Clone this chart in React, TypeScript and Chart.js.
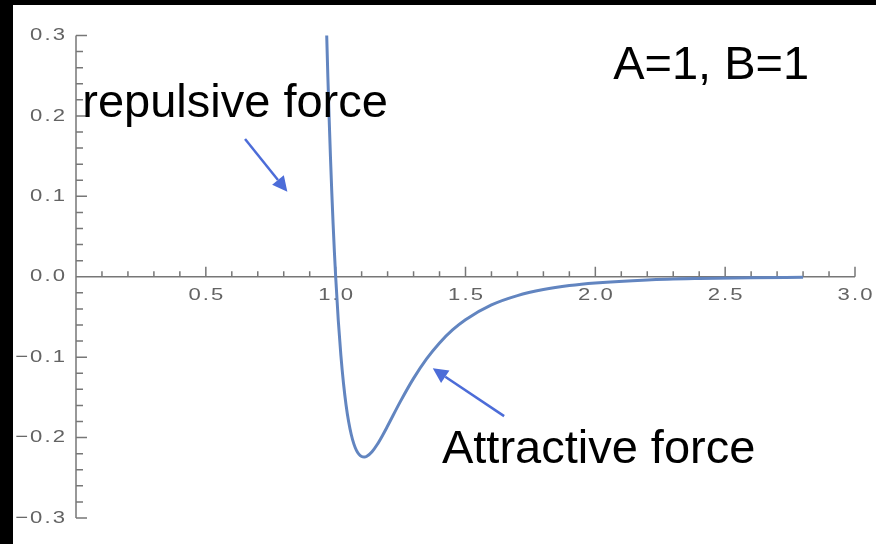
import { useEffect, useRef } from "react";
import { Chart, registerables } from "chart.js";

Chart.register(...registerables);

// Force curve sampled along the separation r
const R_VALUES = [
  0.965, 0.97, 0.975, 0.98, 0.985, 0.99, 0.995, 1.0,
  1.01, 1.02, 1.03, 1.04, 1.05, 1.06, 1.07, 1.08, 1.09, 1.1, 1.11, 1.12,
  1.14, 1.16, 1.18, 1.2,
  1.25, 1.3, 1.35, 1.4, 1.45, 1.5,
  1.6, 1.7, 1.8, 1.9, 2.0,
  2.2, 2.4, 2.6, 2.8,
];
const FORCE = [
  0.306, 0.248, 0.196, 0.1485, 0.1055, 0.0667, 0.0316, 0,
  -0.0541, -0.0975, -0.1321, -0.1594, -0.1804, -0.1962, -0.2078, -0.2158, -0.2209, -0.2235, -0.2241, -0.2232,
  -0.2176, -0.2086, -0.1976, -0.1856,
  -0.1547, -0.1264, -0.1022, -0.0823, -0.0662, -0.0534,
  -0.035, -0.0234, -0.0159, -0.0109, -0.0077,
  -0.004, -0.0022, -0.0012, -0.0007,
];

const X_MIN = 0;
const X_MAX = 3;
const Y_MIN = -0.3;
const Y_MAX = 0.3;

const X_TICKS = [0.5, 1.0, 1.5, 2.0, 2.5, 3.0];
const X_TICK_LABELS = ["0.5", "1.0", "1.5", "2.0", "2.5", "3.0"];
const Y_TICKS = [0.3, 0.2, 0.1, 0.0, -0.1, -0.2, -0.3];
const Y_TICK_LABELS = ["0.3", "0.2", "0.1", "0.0", "\u22120.1", "\u22120.2", "\u22120.3"];
const X_MINOR_COUNT = 30; // every 0.1
const Y_MINOR_COUNT = 15; // every 0.02 on each side

// Annotations, anchored in data coordinates
const NOTE_TEXTS = ["repulsive force", "A=1, B=1", "Attractive force"];
const NOTE_X = [0.6125, 2.446, 2.0127];
const NOTE_Y = [0.1988, 0.246, -0.2317];

const ARROW_FROM_X = [0.651, 1.6487];
const ARROW_FROM_Y = [0.1714, -0.1733];
const ARROW_TO_X = [0.814, 1.374];
const ARROW_TO_Y = [0.1058, -0.1139];

const AXIS_COLOR = "#777777";
const TICK_LABEL_COLOR = "#636363";
const CURVE_COLOR = "#6285c0";
const ARROW_COLOR = "#4c6cd8";

function drawTickLabel(
  ctx: CanvasRenderingContext2D,
  text: string,
  x: number,
  y: number,
  align: "center" | "right"
) {
  ctx.font = "17px 'Liberation Sans', Arial, sans-serif";
  const spacing = 1.6;
  const stretch = 1.3;
  const chars = [...text];
  const widths = chars.map((c) => ctx.measureText(c).width);
  const total = widths.reduce((a, b) => a + b, 0) + spacing * (chars.length - 1);
  let cx = align === "center" ? -total / 2 : -total;
  ctx.save();
  ctx.translate(x, y);
  ctx.scale(stretch, 1);
  ctx.textAlign = "left";
  ctx.textBaseline = "middle";
  chars.forEach((c, i) => {
    ctx.fillText(c, cx, 0);
    cx += widths[i] + spacing;
  });
  ctx.restore();
}

const framePlugin = {
  id: "frame",
  beforeDraw(chart: any) {
    const ctx = chart.ctx as CanvasRenderingContext2D;
    ctx.save();
    ctx.fillStyle = "#000";
    ctx.fillRect(0, 0, chart.width, chart.height);
    ctx.fillStyle = "#fff";
    ctx.fillRect(13, 5, chart.width - 13, chart.height - 5);
    ctx.restore();
  },
};

const axesPlugin = {
  id: "originAxes",
  beforeDatasetsDraw(chart: any) {
    const ctx = chart.ctx as CanvasRenderingContext2D;
    const xs = chart.scales.x;
    const ys = chart.scales.y;
    const px = (v: number) => xs.getPixelForValue(v);
    const py = (v: number) => ys.getPixelForValue(v);
    const ox = px(0);
    const oy = py(0);

    ctx.save();
    ctx.strokeStyle = AXIS_COLOR;
    ctx.lineWidth = 1.5;
    ctx.beginPath();
    ctx.moveTo(ox, oy);
    ctx.lineTo(px(X_MAX), oy);
    ctx.moveTo(ox, py(Y_MAX));
    ctx.lineTo(ox, py(Y_MIN));
    for (let i = 1; i <= X_MINOR_COUNT; i++) {
      const v = (i * (X_MAX - X_MIN)) / X_MINOR_COUNT;
      const len = i % 5 === 0 ? 10 : 5.5;
      ctx.moveTo(px(v), oy);
      ctx.lineTo(px(v), oy - len);
    }
    for (let i = -Y_MINOR_COUNT; i <= Y_MINOR_COUNT; i++) {
      if (i === 0) continue;
      const v = (i * Y_MAX) / Y_MINOR_COUNT;
      const len = i % 5 === 0 ? 11 : 7;
      ctx.moveTo(ox, py(v));
      ctx.lineTo(ox + len, py(v));
    }
    ctx.stroke();

    ctx.fillStyle = TICK_LABEL_COLOR;
    X_TICKS.forEach((v, i) => drawTickLabel(ctx, X_TICK_LABELS[i], px(v), oy + 19, "center"));
    Y_TICKS.forEach((v, i) => drawTickLabel(ctx, Y_TICK_LABELS[i], ox - 11, py(v), "right"));
    ctx.restore();
  },
};

const notesPlugin = {
  id: "notes",
  afterDraw(chart: any) {
    const ctx = chart.ctx as CanvasRenderingContext2D;
    const xs = chart.scales.x;
    const ys = chart.scales.y;
    ctx.save();
    ctx.fillStyle = "#000";
    ctx.font = "47px 'Liberation Sans', Arial, sans-serif";
    ctx.textAlign = "center";
    ctx.textBaseline = "alphabetic";
    NOTE_TEXTS.forEach((t, i) => {
      ctx.fillText(t, xs.getPixelForValue(NOTE_X[i]), ys.getPixelForValue(NOTE_Y[i]));
    });

    ctx.strokeStyle = ARROW_COLOR;
    ctx.fillStyle = ARROW_COLOR;
    ctx.lineWidth = 2.5;
    ARROW_FROM_X.forEach((_, i) => {
      const x1 = xs.getPixelForValue(ARROW_FROM_X[i]);
      const y1 = ys.getPixelForValue(ARROW_FROM_Y[i]);
      const x2 = xs.getPixelForValue(ARROW_TO_X[i]);
      const y2 = ys.getPixelForValue(ARROW_TO_Y[i]);
      const ang = Math.atan2(y2 - y1, x2 - x1);
      const headLen = 15;
      const headHalf = 7.5;
      const bx = x2 - headLen * Math.cos(ang);
      const by = y2 - headLen * Math.sin(ang);
      ctx.beginPath();
      ctx.moveTo(x1, y1);
      ctx.lineTo(bx, by);
      ctx.stroke();
      ctx.beginPath();
      ctx.moveTo(x2, y2);
      ctx.lineTo(bx + headHalf * Math.sin(ang), by - headHalf * Math.cos(ang));
      ctx.lineTo(bx - headHalf * Math.sin(ang), by + headHalf * Math.cos(ang));
      ctx.closePath();
      ctx.fill();
    });
    ctx.restore();
  },
};

export default function App() {
  const canvasRef = useRef<HTMLCanvasElement>(null);

  useEffect(() => {
    const canvas = canvasRef.current;
    if (!canvas) return;
    const chart = new Chart(canvas, {
      type: "scatter",
      data: {
        datasets: [
          {
            data: R_VALUES.map((r, i) => ({ x: r, y: FORCE[i] })),
            showLine: true,
            borderColor: CURVE_COLOR,
            borderWidth: 3,
            pointRadius: 0,
            cubicInterpolationMode: "monotone",
            fill: false,
          },
        ],
      },
      options: {
        responsive: false,
        maintainAspectRatio: false,
        animation: false,
        devicePixelRatio: 1,
        layout: { padding: { left: 76, right: 21, top: 35.5, bottom: 26 } },
        scales: {
          x: { type: "linear", min: X_MIN, max: X_MAX, display: false },
          y: { type: "linear", min: Y_MIN, max: Y_MAX, display: false },
        },
        plugins: {
          legend: { display: false },
          tooltip: { enabled: false },
        },
      },
      plugins: [framePlugin, axesPlugin, notesPlugin],
    });
    return () => chart.destroy();
  }, []);

  return (
    <div style={{ position: "fixed", left: 0, top: 0, width: 876, height: 544 }}>
      <canvas ref={canvasRef} width={876} height={544} style={{ display: "block", width: 876, height: 544 }} />
    </div>
  );
}
